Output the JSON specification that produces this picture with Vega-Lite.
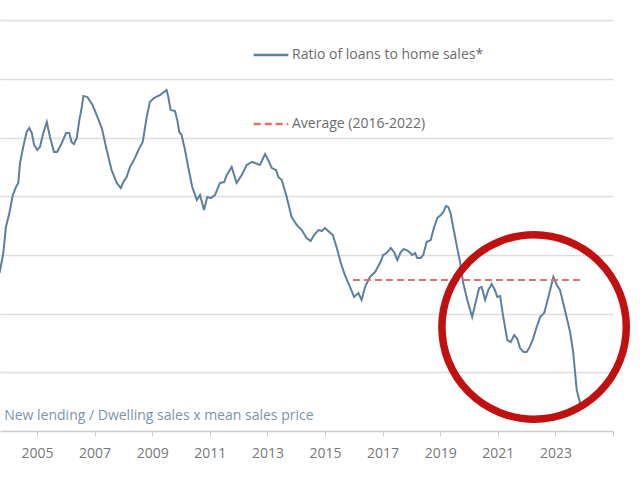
{
  "$schema": "https://vega.github.io/schema/vega-lite/v6.json",
  "width": 613,
  "height": 431,
  "padding": {"left": 0, "top": 0, "right": 27, "bottom": 49},
  "autosize": "none",
  "background": "white",
  "config": {
    "font": "Open Sans",
    "view": {"stroke": null}
  },
  "layer": [
    {
      "data": {
        "values": [
          {"series": "Ratio of loans to home sales*", "year": 2003.70, "value": 26.9},
          {"series": "Ratio of loans to home sales*", "year": 2003.83, "value": 30.32},
          {"series": "Ratio of loans to home sales*", "year": 2003.92, "value": 34.75},
          {"series": "Ratio of loans to home sales*", "year": 2004.04, "value": 37.14},
          {"series": "Ratio of loans to home sales*", "year": 2004.16, "value": 40.20},
          {"series": "Ratio of loans to home sales*", "year": 2004.27, "value": 41.57},
          {"series": "Ratio of loans to home sales*", "year": 2004.35, "value": 42.25},
          {"series": "Ratio of loans to home sales*", "year": 2004.41, "value": 45.66},
          {"series": "Ratio of loans to home sales*", "year": 2004.52, "value": 48.38},
          {"series": "Ratio of loans to home sales*", "year": 2004.64, "value": 50.94},
          {"series": "Ratio of loans to home sales*", "year": 2004.73, "value": 51.62},
          {"series": "Ratio of loans to home sales*", "year": 2004.82, "value": 50.77},
          {"series": "Ratio of loans to home sales*", "year": 2004.90, "value": 48.72},
          {"series": "Ratio of loans to home sales*", "year": 2005.01, "value": 47.87},
          {"series": "Ratio of loans to home sales*", "year": 2005.10, "value": 48.38},
          {"series": "Ratio of loans to home sales*", "year": 2005.22, "value": 50.77},
          {"series": "Ratio of loans to home sales*", "year": 2005.34, "value": 52.64},
          {"series": "Ratio of loans to home sales*", "year": 2005.45, "value": 50.09},
          {"series": "Ratio of loans to home sales*", "year": 2005.59, "value": 47.53},
          {"series": "Ratio of loans to home sales*", "year": 2005.70, "value": 47.53},
          {"series": "Ratio of loans to home sales*", "year": 2005.86, "value": 49.06},
          {"series": "Ratio of loans to home sales*", "year": 2006.01, "value": 50.77},
          {"series": "Ratio of loans to home sales*", "year": 2006.12, "value": 50.77},
          {"series": "Ratio of loans to home sales*", "year": 2006.20, "value": 49.23},
          {"series": "Ratio of loans to home sales*", "year": 2006.28, "value": 48.89},
          {"series": "Ratio of loans to home sales*", "year": 2006.38, "value": 49.92},
          {"series": "Ratio of loans to home sales*", "year": 2006.47, "value": 52.98},
          {"series": "Ratio of loans to home sales*", "year": 2006.55, "value": 55.03},
          {"series": "Ratio of loans to home sales*", "year": 2006.61, "value": 57.07},
          {"series": "Ratio of loans to home sales*", "year": 2006.75, "value": 56.90},
          {"series": "Ratio of loans to home sales*", "year": 2006.93, "value": 55.54},
          {"series": "Ratio of loans to home sales*", "year": 2007.07, "value": 53.83},
          {"series": "Ratio of loans to home sales*", "year": 2007.25, "value": 51.62},
          {"series": "Ratio of loans to home sales*", "year": 2007.42, "value": 47.87},
          {"series": "Ratio of loans to home sales*", "year": 2007.59, "value": 44.46},
          {"series": "Ratio of loans to home sales*", "year": 2007.77, "value": 42.25},
          {"series": "Ratio of loans to home sales*", "year": 2007.91, "value": 41.40},
          {"series": "Ratio of loans to home sales*", "year": 2008.00, "value": 42.42},
          {"series": "Ratio of loans to home sales*", "year": 2008.11, "value": 43.27},
          {"series": "Ratio of loans to home sales*", "year": 2008.23, "value": 44.98},
          {"series": "Ratio of loans to home sales*", "year": 2008.40, "value": 46.51},
          {"series": "Ratio of loans to home sales*", "year": 2008.52, "value": 47.87},
          {"series": "Ratio of loans to home sales*", "year": 2008.67, "value": 49.23},
          {"series": "Ratio of loans to home sales*", "year": 2008.81, "value": 53.49},
          {"series": "Ratio of loans to home sales*", "year": 2008.92, "value": 56.05},
          {"series": "Ratio of loans to home sales*", "year": 2009.06, "value": 56.73},
          {"series": "Ratio of loans to home sales*", "year": 2009.27, "value": 57.24},
          {"series": "Ratio of loans to home sales*", "year": 2009.50, "value": 58.09},
          {"series": "Ratio of loans to home sales*", "year": 2009.56, "value": 56.90},
          {"series": "Ratio of loans to home sales*", "year": 2009.64, "value": 54.69},
          {"series": "Ratio of loans to home sales*", "year": 2009.79, "value": 54.52},
          {"series": "Ratio of loans to home sales*", "year": 2009.87, "value": 52.98},
          {"series": "Ratio of loans to home sales*", "year": 2009.94, "value": 50.94},
          {"series": "Ratio of loans to home sales*", "year": 2010.02, "value": 50.43},
          {"series": "Ratio of loans to home sales*", "year": 2010.14, "value": 47.87},
          {"series": "Ratio of loans to home sales*", "year": 2010.25, "value": 44.98},
          {"series": "Ratio of loans to home sales*", "year": 2010.39, "value": 41.57},
          {"series": "Ratio of loans to home sales*", "year": 2010.55, "value": 39.35},
          {"series": "Ratio of loans to home sales*", "year": 2010.66, "value": 40.20},
          {"series": "Ratio of loans to home sales*", "year": 2010.80, "value": 37.65},
          {"series": "Ratio of loans to home sales*", "year": 2010.91, "value": 39.86},
          {"series": "Ratio of loans to home sales*", "year": 2011.03, "value": 39.69},
          {"series": "Ratio of loans to home sales*", "year": 2011.18, "value": 40.20},
          {"series": "Ratio of loans to home sales*", "year": 2011.35, "value": 42.25},
          {"series": "Ratio of loans to home sales*", "year": 2011.50, "value": 42.42},
          {"series": "Ratio of loans to home sales*", "year": 2011.59, "value": 43.61},
          {"series": "Ratio of loans to home sales*", "year": 2011.76, "value": 44.98},
          {"series": "Ratio of loans to home sales*", "year": 2011.93, "value": 42.25},
          {"series": "Ratio of loans to home sales*", "year": 2012.11, "value": 43.61},
          {"series": "Ratio of loans to home sales*", "year": 2012.28, "value": 45.32},
          {"series": "Ratio of loans to home sales*", "year": 2012.45, "value": 45.83},
          {"series": "Ratio of loans to home sales*", "year": 2012.57, "value": 45.66},
          {"series": "Ratio of loans to home sales*", "year": 2012.74, "value": 45.32},
          {"series": "Ratio of loans to home sales*", "year": 2012.92, "value": 47.19},
          {"series": "Ratio of loans to home sales*", "year": 2013.06, "value": 45.83},
          {"series": "Ratio of loans to home sales*", "year": 2013.15, "value": 44.80},
          {"series": "Ratio of loans to home sales*", "year": 2013.30, "value": 44.46},
          {"series": "Ratio of loans to home sales*", "year": 2013.38, "value": 43.27},
          {"series": "Ratio of loans to home sales*", "year": 2013.50, "value": 42.76},
          {"series": "Ratio of loans to home sales*", "year": 2013.67, "value": 39.86},
          {"series": "Ratio of loans to home sales*", "year": 2013.84, "value": 36.46},
          {"series": "Ratio of loans to home sales*", "year": 2014.02, "value": 35.09},
          {"series": "Ratio of loans to home sales*", "year": 2014.19, "value": 34.24},
          {"series": "Ratio of loans to home sales*", "year": 2014.36, "value": 32.88},
          {"series": "Ratio of loans to home sales*", "year": 2014.50, "value": 32.37},
          {"series": "Ratio of loans to home sales*", "year": 2014.62, "value": 33.39},
          {"series": "Ratio of loans to home sales*", "year": 2014.77, "value": 34.24},
          {"series": "Ratio of loans to home sales*", "year": 2014.89, "value": 34.07},
          {"series": "Ratio of loans to home sales*", "year": 2015.00, "value": 34.58},
          {"series": "Ratio of loans to home sales*", "year": 2015.15, "value": 33.90},
          {"series": "Ratio of loans to home sales*", "year": 2015.27, "value": 33.39},
          {"series": "Ratio of loans to home sales*", "year": 2015.41, "value": 31.18},
          {"series": "Ratio of loans to home sales*", "year": 2015.55, "value": 28.62},
          {"series": "Ratio of loans to home sales*", "year": 2015.69, "value": 26.58},
          {"series": "Ratio of loans to home sales*", "year": 2015.87, "value": 24.53},
          {"series": "Ratio of loans to home sales*", "year": 2016.01, "value": 22.83},
          {"series": "Ratio of loans to home sales*", "year": 2016.16, "value": 23.51},
          {"series": "Ratio of loans to home sales*", "year": 2016.27, "value": 22.32},
          {"series": "Ratio of loans to home sales*", "year": 2016.39, "value": 24.53},
          {"series": "Ratio of loans to home sales*", "year": 2016.56, "value": 26.24},
          {"series": "Ratio of loans to home sales*", "year": 2016.74, "value": 27.09},
          {"series": "Ratio of loans to home sales*", "year": 2016.91, "value": 28.62},
          {"series": "Ratio of loans to home sales*", "year": 2017.02, "value": 29.98},
          {"series": "Ratio of loans to home sales*", "year": 2017.14, "value": 30.32},
          {"series": "Ratio of loans to home sales*", "year": 2017.28, "value": 31.18},
          {"series": "Ratio of loans to home sales*", "year": 2017.40, "value": 30.49},
          {"series": "Ratio of loans to home sales*", "year": 2017.51, "value": 29.13},
          {"series": "Ratio of loans to home sales*", "year": 2017.63, "value": 30.49},
          {"series": "Ratio of loans to home sales*", "year": 2017.74, "value": 31.01},
          {"series": "Ratio of loans to home sales*", "year": 2017.89, "value": 30.66},
          {"series": "Ratio of loans to home sales*", "year": 2018.03, "value": 29.98},
          {"series": "Ratio of loans to home sales*", "year": 2018.13, "value": 30.32},
          {"series": "Ratio of loans to home sales*", "year": 2018.20, "value": 29.47},
          {"series": "Ratio of loans to home sales*", "year": 2018.32, "value": 29.47},
          {"series": "Ratio of loans to home sales*", "year": 2018.41, "value": 29.98},
          {"series": "Ratio of loans to home sales*", "year": 2018.53, "value": 32.20},
          {"series": "Ratio of loans to home sales*", "year": 2018.67, "value": 32.54},
          {"series": "Ratio of loans to home sales*", "year": 2018.78, "value": 34.58},
          {"series": "Ratio of loans to home sales*", "year": 2018.90, "value": 36.29},
          {"series": "Ratio of loans to home sales*", "year": 2019.02, "value": 36.80},
          {"series": "Ratio of loans to home sales*", "year": 2019.11, "value": 37.31},
          {"series": "Ratio of loans to home sales*", "year": 2019.20, "value": 38.33},
          {"series": "Ratio of loans to home sales*", "year": 2019.28, "value": 38.16},
          {"series": "Ratio of loans to home sales*", "year": 2019.36, "value": 37.14},
          {"series": "Ratio of loans to home sales*", "year": 2019.45, "value": 34.75},
          {"series": "Ratio of loans to home sales*", "year": 2019.57, "value": 31.69},
          {"series": "Ratio of loans to home sales*", "year": 2019.69, "value": 28.79},
          {"series": "Ratio of loans to home sales*", "year": 2019.80, "value": 25.21},
          {"series": "Ratio of loans to home sales*", "year": 2019.94, "value": 22.32},
          {"series": "Ratio of loans to home sales*", "year": 2020.11, "value": 19.42},
          {"series": "Ratio of loans to home sales*", "year": 2020.21, "value": 21.47},
          {"series": "Ratio of loans to home sales*", "year": 2020.35, "value": 24.36},
          {"series": "Ratio of loans to home sales*", "year": 2020.44, "value": 24.53},
          {"series": "Ratio of loans to home sales*", "year": 2020.56, "value": 22.32},
          {"series": "Ratio of loans to home sales*", "year": 2020.67, "value": 24.02},
          {"series": "Ratio of loans to home sales*", "year": 2020.79, "value": 25.04},
          {"series": "Ratio of loans to home sales*", "year": 2020.90, "value": 24.02},
          {"series": "Ratio of loans to home sales*", "year": 2020.98, "value": 22.83},
          {"series": "Ratio of loans to home sales*", "year": 2021.08, "value": 23.00},
          {"series": "Ratio of loans to home sales*", "year": 2021.19, "value": 19.42},
          {"series": "Ratio of loans to home sales*", "year": 2021.33, "value": 15.50},
          {"series": "Ratio of loans to home sales*", "year": 2021.45, "value": 15.16},
          {"series": "Ratio of loans to home sales*", "year": 2021.57, "value": 16.35},
          {"series": "Ratio of loans to home sales*", "year": 2021.68, "value": 15.67},
          {"series": "Ratio of loans to home sales*", "year": 2021.77, "value": 14.14},
          {"series": "Ratio of loans to home sales*", "year": 2021.89, "value": 13.46},
          {"series": "Ratio of loans to home sales*", "year": 2022.00, "value": 13.46},
          {"series": "Ratio of loans to home sales*", "year": 2022.09, "value": 14.14},
          {"series": "Ratio of loans to home sales*", "year": 2022.21, "value": 15.50},
          {"series": "Ratio of loans to home sales*", "year": 2022.35, "value": 17.72},
          {"series": "Ratio of loans to home sales*", "year": 2022.47, "value": 19.42},
          {"series": "Ratio of loans to home sales*", "year": 2022.61, "value": 20.10},
          {"series": "Ratio of loans to home sales*", "year": 2022.73, "value": 22.32},
          {"series": "Ratio of loans to home sales*", "year": 2022.93, "value": 26.24},
          {"series": "Ratio of loans to home sales*", "year": 2023.05, "value": 24.87},
          {"series": "Ratio of loans to home sales*", "year": 2023.16, "value": 24.02},
          {"series": "Ratio of loans to home sales*", "year": 2023.33, "value": 20.61},
          {"series": "Ratio of loans to home sales*", "year": 2023.51, "value": 16.87},
          {"series": "Ratio of loans to home sales*", "year": 2023.62, "value": 13.29},
          {"series": "Ratio of loans to home sales*", "year": 2023.74, "value": 6.98},
          {"series": "Ratio of loans to home sales*", "year": 2023.85, "value": 4.94},
          {"series": "Ratio of loans to home sales*", "year": 2023.96, "value": 3.92},
          {"series": "Average (2016-2022)", "year": 2015.97, "value": 25.72},
          {"series": "Average (2016-2022)", "year": 2023.92, "value": 25.72}
        ]
      },
      "mark": {"type": "line", "strokeWidth": 2, "clip": true},
      "encoding": {
        "x": {
          "field": "year",
          "type": "quantitative",
          "scale": {"domain": [2003.715, 2025], "nice": false, "zero": false},
          "axis": {
            "title": null,
            "grid": false,
            "values": [2005, 2007, 2009, 2011, 2013, 2015, 2017, 2019, 2021, 2023, 2025],
            "format": "d",
            "labelExpr": "datum.value == 2025 ? '' : datum.label",
            "labelFontSize": 14,
            "labelColor": "#777777",
            "labelPadding": 10,
            "tickSize": 5,
            "tickColor": "#cccccc",
            "domainColor": "#cccccc",
            "domainWidth": 1.5,
            "labelFlush": false
          }
        },
        "y": {
          "field": "value",
          "type": "quantitative",
          "scale": {"domain": [0, 73.43], "nice": false, "zero": true},
          "axis": {
            "title": null,
            "labels": false,
            "ticks": false,
            "domain": false,
            "values": [10, 20, 30, 40, 50, 60, 70],
            "gridColor": "#dddddd",
            "gridWidth": 1.5
          }
        },
        "color": {
          "field": "series",
          "type": "nominal",
          "scale": {
            "domain": ["Ratio of loans to home sales*", "Average (2016-2022)"],
            "range": ["#5b7fa1", "#e07068"]
          },
          "legend": {
            "title": null,
            "orient": "none",
            "legendX": 252,
            "legendY": 36,
            "symbolType": "stroke",
            "symbolSize": 1200,
            "symbolStrokeWidth": 2.5,
            "labelFontSize": 14,
            "labelColor": "#6b6b6b",
            "labelOffset": 2,
            "labelLimit": 400,
            "rowPadding": 43
          }
        },
        "strokeDash": {
          "field": "series",
          "type": "nominal",
          "scale": {
            "domain": ["Ratio of loans to home sales*", "Average (2016-2022)"],
            "range": [[1, 0], [7, 4]]
          },
          "legend": {
            "title": null,
            "orient": "none",
            "legendX": 252,
            "legendY": 36,
            "symbolType": "stroke",
            "symbolSize": 1200,
            "symbolStrokeWidth": 2.5,
            "labelFontSize": 14,
            "labelColor": "#6b6b6b",
            "labelOffset": 2,
            "labelLimit": 400,
            "rowPadding": 43
          }
        }
      }
    },
    {
      "data": {"values": [{"year": 2022.26, "value": 17.72}]},
      "mark": {"type": "point", "shape": "circle", "filled": false, "size": 34000, "strokeWidth": 7.5, "color": "#c01010", "opacity": 1},
      "encoding": {
        "x": {"field": "year", "type": "quantitative"},
        "y": {"field": "value", "type": "quantitative"}
      }
    },
    {
      "data": {"values": [{"year": 2003.86, "value": 2.56, "label": "New lending / Dwelling sales x mean sales price"}]},
      "mark": {"type": "text", "align": "left", "baseline": "middle", "fontSize": 14, "color": "#7d93a8"},
      "encoding": {
        "x": {"field": "year", "type": "quantitative"},
        "y": {"field": "value", "type": "quantitative"},
        "text": {"field": "label"}
      }
    }
  ]
}
